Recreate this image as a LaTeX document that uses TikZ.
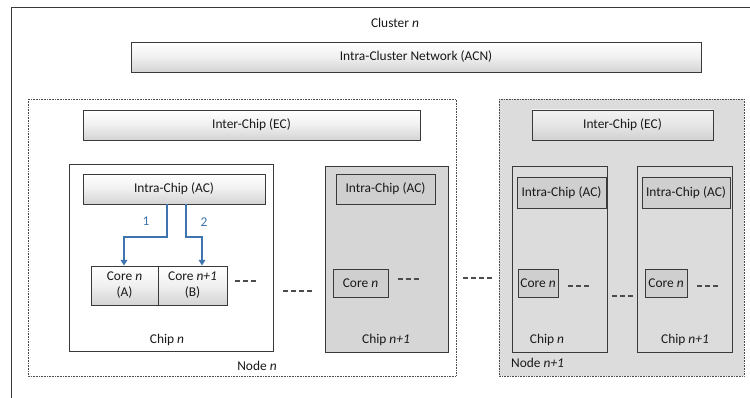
\documentclass[tikz,border=0pt]{standalone}
\usepackage{fontspec}
\setmainfont{Carlito}
\usetikzlibrary{arrows.meta}
\definecolor{edgec}{HTML}{3A3A3A}
\definecolor{bluec}{HTML}{3F74AE}
\definecolor{nodebg}{HTML}{DCDCDC}
\definecolor{chipbg}{HTML}{D6D6D6}
\tikzset{
  box/.style={draw=edgec, line width=0.8pt, top color=white, bottom color=black!17, middle color=black!6},
  plainbox/.style={draw=edgec, line width=0.8pt},
  nodebox/.style={draw=black!70, line width=0.6pt, densely dotted},
  dots/.style={draw=black!70, line width=2.2pt, dash pattern=on 5pt off 3pt},
  lbl/.style={font=\fontsize{13.4}{16}\selectfont, text=black!90, inner sep=0pt},
  arr/.style={draw=bluec, line width=1.4pt, -{Triangle[length=5.5pt,width=6.5pt]}},
  num/.style={font=\fontsize{13.4}{16}\selectfont, text=bluec, inner sep=0pt}
}
\begin{document}
\begin{tikzpicture}[x=1pt,y=-1pt]
\useasboundingbox (0,0) rectangle (750,398);
\fill[white] (0,0) rectangle (750,398);
% cluster frame
\draw[edgec, line width=0.8pt] (11,398) -- (11,7.5) -- (750,7.5);
\node[lbl] (cl) at (395,23) {Cluster \textit{n}};
% ACN
\draw[box] (131,42) rectangle (701,72);
\node[lbl] (acn) at (416,57) {Intra-Cluster Network (ACN)};
% Node n
\draw[nodebox, fill=white] (28,99) rectangle (456,376);
\node[lbl] (nn) at (257,366) {Node \textit{n}};
% Node n+1
\draw[nodebox, fill=nodebg] (499,99) rectangle (744,376);
\node[lbl, anchor=west] (nn1) at (511,363) {Node \textit{n+1}};
% EC boxes
\draw[box] (83,110) rectangle (420,140);
\node[lbl] (ec1) at (251.5,125) {Inter-Chip (EC)};
\draw[box, top color=black!5, bottom color=black!18, middle color=black!10] (532,110) rectangle (713,140);
\node[lbl] (ec2) at (622.5,125) {Inter-Chip (EC)};
% Chip n (node n)
\draw[plainbox, fill=white] (69,164) rectangle (273,351);
\draw[box] (83,174) rectangle (265,204);
\node[lbl] (ac1) at (174,189) {Intra-Chip (AC)};
\draw[box] (91,266) rectangle (158,305);
\node[lbl, align=center] (ca) at (124.5,285.5) {Core \textit{n}\\(A)};
\draw[box] (158,266) rectangle (227,305);
\node[lbl, align=center] (cb) at (192.5,285.5) {Core \textit{n+1}\\(B)};
\coordinate (a1s) at (167,204);
\coordinate (a2s) at (186,204);
\draw[arr] (a1s) |- (124,237) -- (124,265.5);
\draw[arr] (a2s) |- (202,237) -- (202,265.5);
\node[num] (n1) at (146,221) {1};
\node[num] (n2) at (204,222) {2};
\draw[dots] (235,281) -- (258,281);
\node[lbl] (chn) at (167,340) {Chip \textit{n}};
% dots between chips
\draw[dots] (283,291) -- (313,291);
% Chip n+1 (node n)
\draw[plainbox, fill=chipbg] (325,166) rectangle (448,352);
\draw[plainbox, fill=black!19] (336,174) rectangle (435,204);
\node[lbl] (ac2) at (385.5,189) {Intra-Chip (AC)};
\draw[plainbox, fill=black!19] (333,269) rectangle (388,297);
\node[lbl] (c2) at (360.5,283) {Core \textit{n}};
\draw[dots] (398,279) -- (421,279);
\node[lbl] (ch2) at (386,340) {Chip \textit{n+1}};
% dots between nodes
\draw[dots] (463,278) -- (494,278);
% Node n+1 chips
\draw[plainbox] (512,166) rectangle (607,352);
\draw[plainbox, fill=black!19] (517,177) rectangle (606,208);
\node[lbl] (ac3) at (561.5,192.5) {Intra-Chip (AC)};
\draw[plainbox, fill=black!19] (518,269) rectangle (558,297);
\node[lbl] (c3) at (538,283) {Core \textit{n}};
\draw[dots] (568,286) -- (591,286);
\node[lbl] (ch3) at (547,340) {Chip \textit{n}};
\draw[dots] (612,296) -- (635,296);
\draw[plainbox] (637,166) rectangle (732,352);
\draw[plainbox, fill=black!19] (642,177) rectangle (730,208);
\node[lbl] (ac4) at (686,192.5) {Intra-Chip (AC)};
\draw[plainbox, fill=black!19] (645,269) rectangle (687,297);
\node[lbl] (c4) at (666,283) {Core \textit{n}};
\draw[dots] (697,286) -- (720,286);
\node[lbl] (ch4) at (685,340) {Chip \textit{n+1}};
\end{tikzpicture}
\end{document}
